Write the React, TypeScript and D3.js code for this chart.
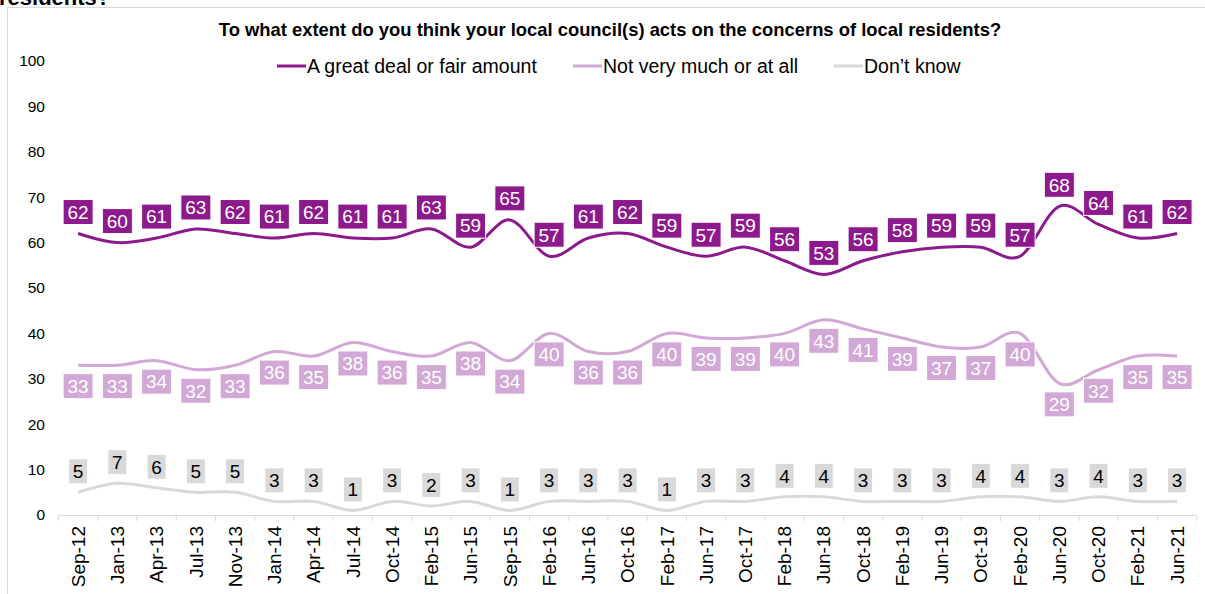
import React from "react";
import * as d3 from "d3";

const categories = ["Sep-12","Jan-13","Apr-13","Jul-13","Nov-13","Jan-14","Apr-14","Jul-14","Oct-14","Feb-15","Jun-15","Sep-15","Feb-16","Jun-16","Oct-16","Feb-17","Jun-17","Oct-17","Feb-18","Jun-18","Oct-18","Feb-19","Jun-19","Oct-19","Feb-20","Jun-20","Oct-20","Feb-21","Jun-21"];
const greatDeal = [62,60,61,63,62,61,62,61,61,63,59,65,57,61,62,59,57,59,56,53,56,58,59,59,57,68,64,61,62];
const notVery = [33,33,34,32,33,36,35,38,36,35,38,34,40,36,36,40,39,39,40,43,41,39,37,37,40,29,32,35,35];
const dontKnow = [5,7,6,5,5,3,3,1,3,2,3,1,3,3,3,1,3,3,4,4,3,3,3,4,4,3,4,3,3];
const yTicks = [0,10,20,30,40,50,60,70,80,90,100];
const seriesNames = ["A great deal or fair amount", "Not very much or at all", "Don\u2019t know"];

const FONT = "'Liberation Sans', Arial, sans-serif";

export default function App() {
  const W = 1205, H = 594;
  const x = d3.scaleBand<string>().domain(categories).range([58.5, 1196.7]);
  const y = d3.scaleLinear().domain([0, 100]).range([515, 61]);
  const cx = (c: string) => (x(c) as number) + x.bandwidth() / 2;

  const series = [
    { name: seriesNames[0], values: greatDeal, color: "#8C1A8C", box: "#8C1A8C", text: "#ffffff", offset: -21.5 },
    { name: seriesNames[1], values: notVery, color: "#D2A8D6", box: "#D2A8D6", text: "#ffffff", offset: 21 },
    { name: seriesNames[2], values: dontKnow, color: "#D9D9D9", box: "#D9D9D9", text: "#000000", offset: -21 },
  ];

  const line = d3.line<number>()
    .x((_, i) => cx(categories[i]))
    .y((v) => y(v))
    .curve(d3.curveCardinal.tension(0));

  const legendItems = [
    { x: 277, color: series[0].color, name: series[0].name },
    { x: 573, color: series[1].color, name: series[1].name },
    { x: 834, color: series[2].color, name: series[2].name },
  ];

  const boundaries = categories.map((c) => x(c) as number).concat([x.range()[1]]);

  return (
    <div style={{ position: "absolute", left: 0, top: 0 }}>
      <svg width={W} height={H} style={{ display: "block", fontFamily: FONT }}>
        <rect x={0} y={0} width={W} height={H} fill="#ffffff" />
        <text x={-1} y={5} fontSize={22} fontWeight="bold" fill="#000">residents?</text>
        <path d={`M7.5,${H} V7.5 H${W}`} fill="none" stroke="#D9D9D9" strokeWidth={1} />
        <text x={610} y={36} textAnchor="middle" fontSize={18.4} fontWeight="bold" fill="#000">
          To what extent do you think your local council(s) acts on the concerns of local residents?
        </text>
        {legendItems.map((l) => (
          <g key={l.name}>
            <line x1={l.x} x2={l.x + 29} y1={66} y2={66} stroke={l.color} strokeWidth={3} />
            <text x={l.x + 30} y={73} fontSize={19.5} fill="#000">{l.name}</text>
          </g>
        ))}
        {yTicks.map((t) => (
          <text key={t} x={45} y={y(t)} dy="0.35em" textAnchor="end" fontSize={15.5} fill="#000">{t}</text>
        ))}
        <line x1={x.range()[0]} x2={x.range()[1]} y1={515.5} y2={515.5} stroke="#D9D9D9" strokeWidth={1} />
        {boundaries.map((b, i) => (
          <line key={i} x1={b} x2={b} y1={515.5} y2={521} stroke="#D9D9D9" strokeWidth={1} />
        ))}
        {categories.map((c) => (
          <text key={c} transform={`translate(${cx(c)},526) rotate(-90)`} textAnchor="end" dy="0.35em" fontSize={19} fill="#000">{c}</text>
        ))}
        {series.map((s) => (
          <path key={s.name} d={line(s.values) || ""} fill="none" stroke={s.color} strokeWidth={3} />
        ))}
        {series.map((s) => (
          <g key={s.name + "-labels"}>
            {s.values.map((v, i) => {
              const label = String(v);
              const w = label.length === 1 ? 19 : 30;
              const px = cx(categories[i]);
              const py = y(v) + s.offset;
              return (
                <g key={i}>
                  <rect x={px - w / 2} y={py - 12.5} width={w} height={25} fill={s.box} stroke="#ffffff" strokeWidth={1} />
                  <text x={px} y={py} dy="0.36em" textAnchor="middle" fontSize={19} fill={s.text}>{label}</text>
                </g>
              );
            })}
          </g>
        ))}
      </svg>
    </div>
  );
}
